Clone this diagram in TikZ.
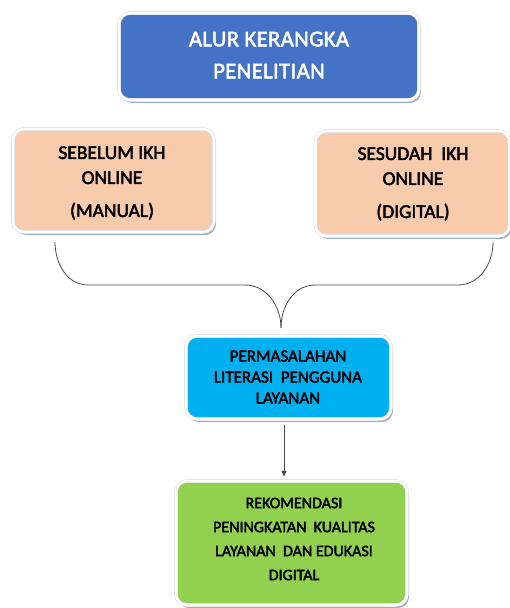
\documentclass[tikz,border=0pt]{standalone}
\usepackage{fontspec}
\setmainfont{Carlito}
\newfontfamily\heavyfont{Carlito}[FakeBold=2.5]
\newfontfamily\heavytitle{Carlito}[FakeBold=2.5,LetterSpace=2]
\usetikzlibrary{arrows.meta}
\definecolor{titleblue}{HTML}{4472C4}
\definecolor{peach}{HTML}{F8CBAD}
\definecolor{cyanbox}{HTML}{00B0F0}
\definecolor{greenbox}{HTML}{92D050}
\definecolor{shadowgray}{HTML}{8A9AB5}
\begin{document}
\begin{tikzpicture}[x=1pt,y=-1pt,
  box/.style={rectangle, rounded corners=11pt, inner sep=0pt,
    draw=gray!30, double=white, double distance=2.6pt, line width=0.5pt,
    preaction={fill=shadowgray, opacity=0.8, transform canvas={xshift=2pt,yshift=-3pt}}},
  lbl/.style={align=center},
  link/.style={draw=black!70, line width=0.8pt}
]
\useasboundingbox (0,0) rectangle (509,608);
% boxes
\node[box, fill=titleblue, minimum width=300pt, minimum height=87pt] (title) at (269,56.5) {};
\node[box, fill=peach, minimum width=201pt, minimum height=103pt] (before) at (113.5,180.5) {};
\node[box, fill=peach, minimum width=194pt, minimum height=105pt] (after) at (412.5,183.5) {};
\node[box, fill=cyanbox, minimum width=205pt, minimum height=83pt] (problem) at (288.5,377.5) {};
\node[box, fill=greenbox, minimum width=231pt, minimum height=124pt] (reco) at (291.5,543) {};
% texts
\node[lbl, text=white, font=\heavytitle\fontsize{22.5}{32}\selectfont] (titletext) at (269,55) {ALUR KERANGKA\\PENELITIAN};
\node[lbl, font=\heavyfont\fontsize{19.5}{25}\selectfont] (beforetext) at (112,183) {SEBELUM IKH\\ONLINE\\[8pt](MANUAL)};
\node[lbl, font=\heavyfont\fontsize{19.5}{25}\selectfont] (aftertext) at (413,184) {SESUDAH\ \ IKH\\ONLINE\\[8pt](DIGITAL)};
\node[lbl, font=\heavyfont\fontsize{17}{21}\selectfont] (problemtext) at (288,377) {PERMASALAHAN\\LITERASI\ \ PENGGUNA\\LAYANAN};
\node[lbl, font=\heavyfont\fontsize{16}{24}\selectfont] (recotext) at (294,539) {REKOMENDASI\\PENINGKATAN\ \ KUALITAS\\LAYANAN\ \ DAN EDUKASI\\DIGITAL};
% brace connector
\coordinate (bl) at (55,242);
\coordinate (br) at (493,242);
\coordinate (bm) at (281,328);
\draw[link] (bl) to[out=-90,in=180] (88,285) -- (245,285) to[out=0,in=90] (bm);
\draw[link] (br) to[out=-90,in=0] (458,285) -- (315,285) to[out=180,in=90] (bm);
% arrow
\draw[link, -{Triangle[length=6pt,width=5pt]}, shorten <=6pt, shorten >=4pt] (problem.south -| 284,0) -- (reco.north -| 284,0);
\end{tikzpicture}
\end{document}
